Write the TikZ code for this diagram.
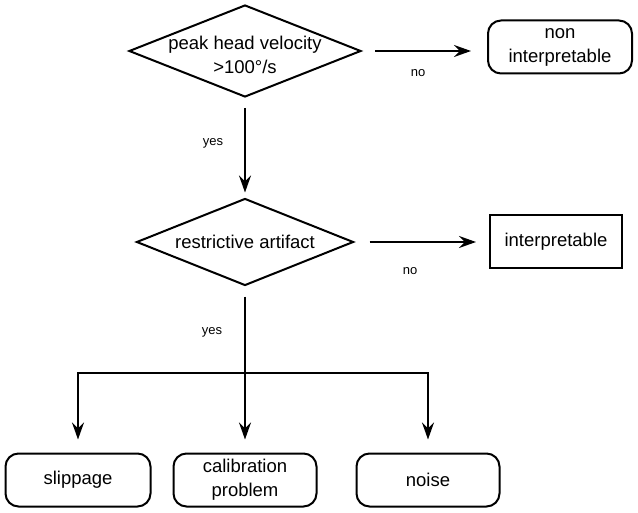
\documentclass[tikz,border=0pt]{standalone}
\usepackage{fontspec}
\setmainfont{Liberation Sans}
\usetikzlibrary{arrows.meta, shapes.geometric, calc}
\tikzset{>={Stealth[length=17pt,width=12pt,inset=6pt]}}
\tikzset{
decision/.style={diamond, draw, inner sep=0pt},
outcome/.style={draw, rounded corners=13pt, minimum height=53pt, inner sep=0pt, align=center},
result/.style={draw, minimum height=53pt, inner sep=0pt, align=center},
answer/.style={font=\fontsize{13}{15}\selectfont}
}

\begin{document}
\begin{tikzpicture}[x=1pt, y=-1pt, line width=2pt, font=\fontsize{18.5}{24}\selectfont]
\useasboundingbox (0,0) rectangle (638,513);
% decisions
\node[decision, minimum width=232pt, minimum height=92pt,
label={[align=center, yshift=-4pt]center:peak head velocity\\>100°/s}] (velo) at (245,51) {};
\node[decision, minimum width=217pt, minimum height=87pt,
label={center:restrictive artifact}] (restr) at (245,242) {};
% outcomes
\node[outcome, minimum width=144pt] (nonint) at (560,47) {non\\interpretable};
\node[result, minimum width=132pt] (interp) at (556,242) {interpretable};
\node[outcome, minimum width=145pt] (slip) at (78,480) {slippage};
\node[outcome, minimum width=143pt] (calib) at (245,480) {calibration\\problem};
\node[outcome, minimum width=143pt] (noise) at (428,480) {noise};
\coordinate (split) at (245,373);
% connectors
\draw[->, shorten <=10pt, shorten >=5pt] (velo) -- (restr);
\draw[->, shorten <=13pt, shorten >=16pt] (velo.east) -- (velo.east -| nonint.west);
\draw[->, shorten <=15pt, shorten >=13pt] (restr.east) -- (restr.east -| interp.west);
\draw[->, shorten <=10pt, shorten >=13pt] (restr) -- (calib);
\draw[->, shorten >=13pt] (split) -| (slip);
\draw[->, shorten >=13pt] (split) -| (noise);
% answers
\node[answer] (no1) at (418,73) {no};
\node[answer] (yes1) at (213,143) {yes};
\node[answer] (no2) at (410,271) {no};
\node[answer] (yes2) at (212,332) {yes};
\end{tikzpicture}
\end{document}
